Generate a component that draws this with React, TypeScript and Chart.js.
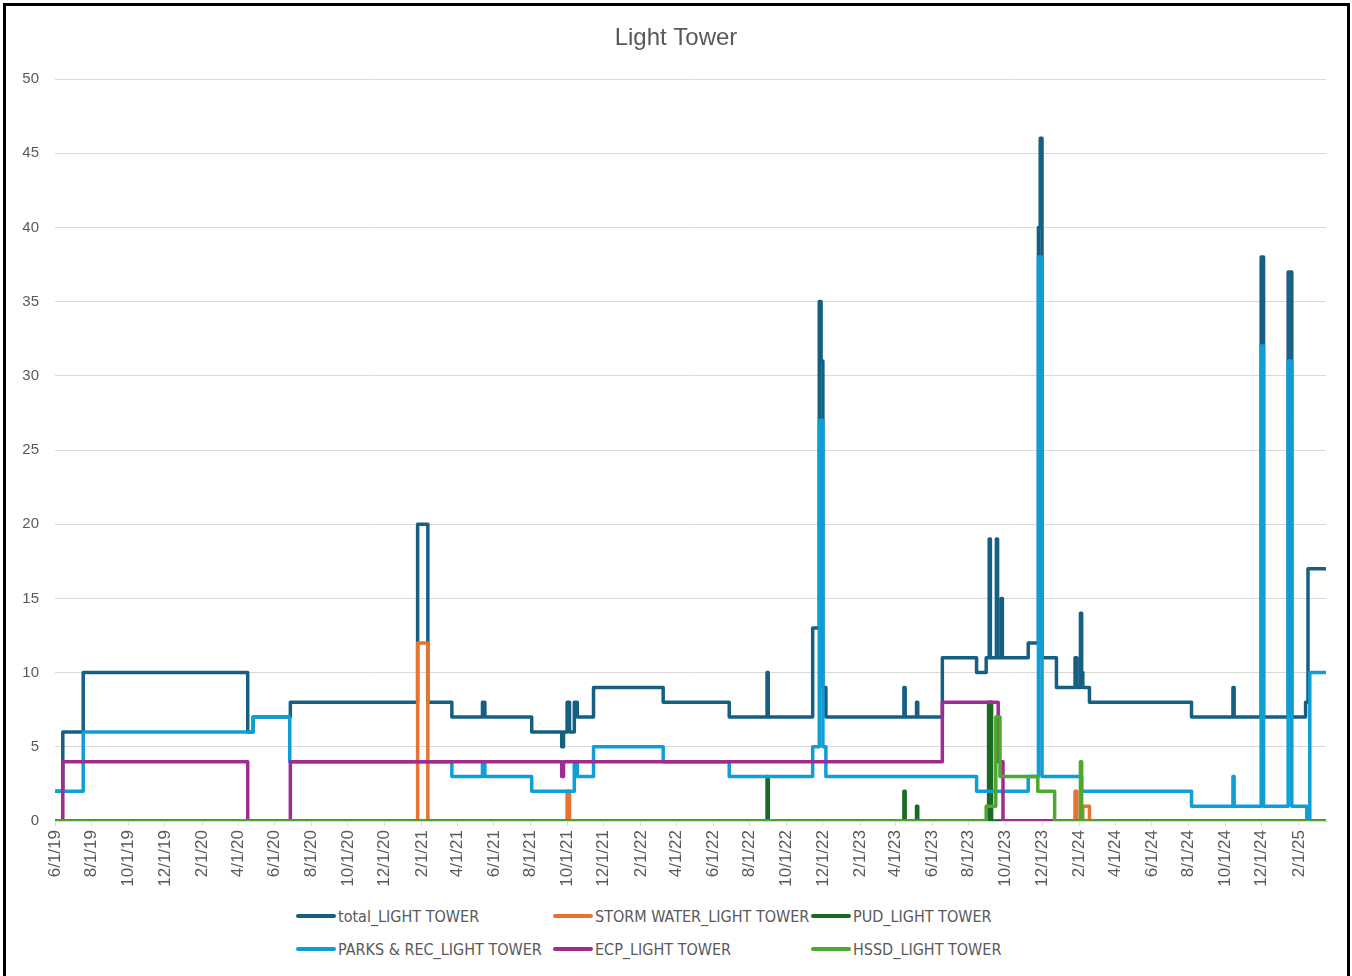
import React, { useEffect, useRef } from "react";
import { Chart, registerables } from "chart.js";

Chart.register(...registerables);

const chartTitle = "Light Tower";

const xTickLabels = [
  "6/1/19", "8/1/19", "10/1/19", "12/1/19", "2/1/20", "4/1/20", "6/1/20", "8/1/20",
  "10/1/20", "12/1/20", "2/1/21", "4/1/21", "6/1/21", "8/1/21", "10/1/21", "12/1/21",
  "2/1/22", "4/1/22", "6/1/22", "8/1/22", "10/1/22", "12/1/22", "2/1/23", "4/1/23",
  "6/1/23", "8/1/23", "10/1/23", "12/1/23", "2/1/24", "4/1/24", "6/1/24", "8/1/24",
  "10/1/24", "12/1/24", "2/1/25",
];
const axisStart = "6/1/19";
const axisEnd = "3/18/25";
const yMin = 0;
const yMax = 50;
const yStep = 5;

const seriesNames = [
  "total_LIGHT TOWER",
  "STORM WATER_LIGHT TOWER",
  "PUD_LIGHT TOWER",
  "PARKS & REC_LIGHT TOWER",
  "ECP_LIGHT TOWER",
  "HSSD_LIGHT TOWER",
];
const seriesColors = ["#156082", "#E97132", "#196B24", "#0F9ED5", "#A02B93", "#4EA72E"];

// change points: date at which the value becomes the given value
const totalDates = [
  "6/1/19", "6/14/19", "7/18/19", "4/17/20", "4/26/20", "6/27/20", "1/25/21", "2/11/21",
  "3/23/21", "5/13/21", "5/17/21", "8/3/21", "9/22/21", "9/25/21", "10/1/21", "10/5/21",
  "10/13/21", "10/18/21", "11/14/21", "3/10/22", "6/28/22", "8/30/22", "9/1/22", "11/14/22",
  "11/25/22", "11/28/22", "12/1/22", "12/6/22", "4/15/23", "4/17/23", "5/6/23", "5/8/23",
  "6/18/23", "8/14/23", "8/30/23", "9/4/23", "9/6/23", "9/16/23", "9/18/23", "9/24/23",
  "9/26/23", "11/8/23", "11/25/23", "11/28/23", "12/1/23", "12/25/23", "1/25/24", "1/28/24",
  "2/3/24", "2/5/24", "2/7/24", "2/18/24", "8/6/24", "10/14/24", "10/16/24", "11/30/24",
  "12/4/24", "1/14/25", "1/20/25", "2/12/25", "2/16/25", "3/18/25",
];
const totalValues = [
  2, 6, 10, 6, 7, 8, 20, 8,
  7, 8, 7, 6, 5, 6, 8, 6,
  8, 7, 9, 8, 7, 10, 7, 13,
  35, 31, 9, 7, 9, 7, 8, 7,
  11, 10, 11, 19, 11, 19, 11, 15,
  11, 12, 40, 46, 11, 9, 11, 9,
  14, 10, 9, 8, 7, 9, 7, 38,
  7, 37, 7, 8, 17, 17,
];

const stormDates = ["6/1/19", "1/25/21", "2/11/21", "10/1/21", "10/5/21", "1/25/24", "1/28/24", "2/7/24", "2/18/24", "3/18/25"];
const stormValues = [0, 12, 0, 2, 0, 2, 0, 1, 0, 0];

const pudDates = ["6/1/19", "8/30/22", "9/1/22", "4/15/23", "4/17/23", "5/6/23", "5/8/23", "9/3/23", "9/8/23", "3/18/25"];
const pudValues = [0, 3, 0, 2, 0, 1, 0, 8, 0, 0];

const parksDates = [
  "6/1/19", "7/18/19", "4/26/20", "6/26/20", "3/23/21", "5/13/21", "5/17/21", "8/3/21",
  "10/13/21", "10/18/21", "11/14/21", "3/10/22", "6/28/22", "11/14/22", "11/25/22", "12/1/22",
  "12/6/22", "8/14/23", "11/8/23", "11/25/23", "12/1/23", "2/5/24", "8/6/24", "10/14/24",
  "10/16/24", "11/30/24", "12/4/24", "1/14/25", "1/20/25", "2/14/25", "2/19/25", "3/18/25",
];
const parksValues = [
  2, 6, 7, 4, 3, 4, 3, 2,
  4, 3, 5, 4, 3, 5, 27, 5,
  3, 2, 3, 38, 3, 2, 1, 3,
  1, 32, 1, 31, 1, 0, 10, 10,
];

const ecpDates = ["6/1/19", "6/14/19", "4/17/20", "6/27/20", "9/22/21", "9/25/21", "6/18/23", "9/19/23", "9/27/23", "3/18/25"];
const ecpValues = [0, 4, 0, 4, 3, 4, 8, 4, 0, 0];

const hssdDates = ["6/1/19", "8/30/23", "9/15/23", "9/22/23", "11/24/23", "12/22/23", "2/3/24", "2/5/24", "3/18/25"];
const hssdValues = [0, 1, 7, 3, 2, 0, 4, 0, 0];

const seriesDates = [totalDates, stormDates, pudDates, parksDates, ecpDates, hssdDates];
const seriesValues = [totalValues, stormValues, pudValues, parksValues, ecpValues, hssdValues];

function toUtc(s: string): number {
  const [m, d, y] = s.split("/").map(Number);
  return Date.UTC(2000 + y, m - 1, d);
}
const baseUtc = toUtc(axisStart);
function toDay(s: string): number {
  return Math.round((toUtc(s) - baseUtc) / 86400000);
}

const textColor = "#595959";
const gridColor = "#d9d9d9";
const axisFont = "'Liberation Sans', Arial, sans-serif";

export default function App() {
  const canvasRef = useRef<HTMLCanvasElement | null>(null);

  useEffect(() => {
    if (!canvasRef.current) return;
    const tickDays = xTickLabels.map(toDay);
    const n = seriesNames.length;
    const datasets = seriesNames.map((name, i) => ({
      label: name,
      data: seriesDates[i].map((d, j) => ({ x: toDay(d), y: seriesValues[i][j] })),
      borderColor: seriesColors[i],
      backgroundColor: seriesColors[i],
      borderWidth: 3.5,
      stepped: "before" as const,
      pointRadius: 0,
      fill: false,
      borderJoinStyle: "round" as const,
      borderCapStyle: "butt" as const,
      order: n - 1 - i,
      yAxisID: "y",
    }));

    const chart = new Chart(canvasRef.current, {
      type: "line",
      data: { datasets },
      options: {
        responsive: false,
        animation: false,
        events: [],
        layout: { padding: { left: 0, right: 0, top: 0, bottom: 0 } },
        plugins: {
          legend: { display: false },
          tooltip: { enabled: false },
          title: {
            display: true,
            text: chartTitle,
            color: textColor,
            font: { family: axisFont, size: 24, weight: "normal" },
            padding: { top: 24, bottom: 26.2 },
          },
        },
        scales: {
          x: {
            type: "linear",
            min: toDay(axisStart),
            max: toDay(axisEnd),
            afterBuildTicks: (scale: any) => {
              scale.ticks = tickDays.map((v) => ({ value: v }));
            },
            afterFit: (scale: any) => {
              scale.height = 79;
            },
            ticks: {
              autoSkip: false,
              maxRotation: 90,
              minRotation: 90,
              color: textColor,
              padding: 4,
              font: { family: axisFont, size: 17 },
              callback: (_v: any, index: number) => xTickLabels[index],
            },
            grid: {
              drawOnChartArea: false,
              drawTicks: true,
              tickLength: 5,
              color: gridColor,
            },
            border: { color: gridColor },
          },
          y: {
            position: "left",
            min: yMin,
            max: yMax,
            afterFit: (scale: any) => {
              scale.width = 55;
            },
            ticks: {
              stepSize: yStep,
              color: textColor,
              padding: 16,
              font: { family: axisFont, size: 15 },
            },
            grid: { color: gridColor, drawTicks: false },
            border: { display: false },
          },
          yRightSpace: {
            position: "right",
            display: true,
            min: yMin,
            max: yMax,
            afterFit: (scale: any) => {
              scale.width = 26;
            },
            ticks: { display: false },
            grid: { display: false },
            border: { display: false },
          },
        },
      },
    } as any);
    return () => chart.destroy();
  }, []);

  return (
    <div style={{ position: "fixed", left: 0, top: 0, width: 1352, height: 976, background: "#fff", overflow: "hidden" }}>
      <div
        style={{
          position: "absolute",
          left: 3,
          top: 3,
          width: 1347,
          height: 990,
          border: "3px solid #000",
          boxSizing: "border-box",
        }}
      />
      <canvas
        ref={canvasRef}
        width={1352}
        height={900}
        style={{ position: "absolute", left: 0, top: 0, width: 1352, height: 900 }}
      />
      {seriesNames.map((name, i) => {
        const col = i % 3;
        const row = Math.floor(i / 3);
        const lefts = [296, 553, 811];
        const tops = [916, 949];
        return (
          <div
            key={name}
            style={{
              position: "absolute",
              left: lefts[col],
              top: tops[row] - 11,
              height: 22,
              display: "flex",
              alignItems: "center",
              whiteSpace: "nowrap",
              fontFamily: "'Liberation Sans Narrow', 'DejaVu Sans Condensed', Arial, sans-serif",
              fontSize: 16,
              color: textColor,
            }}
          >
            <span
              style={{
                display: "inline-block",
                width: 40,
                height: 4,
                borderRadius: 2,
                background: seriesColors[i],
                marginRight: 2,
              }}
            />
            <span>{name}</span>
          </div>
        );
      })}
    </div>
  );
}
